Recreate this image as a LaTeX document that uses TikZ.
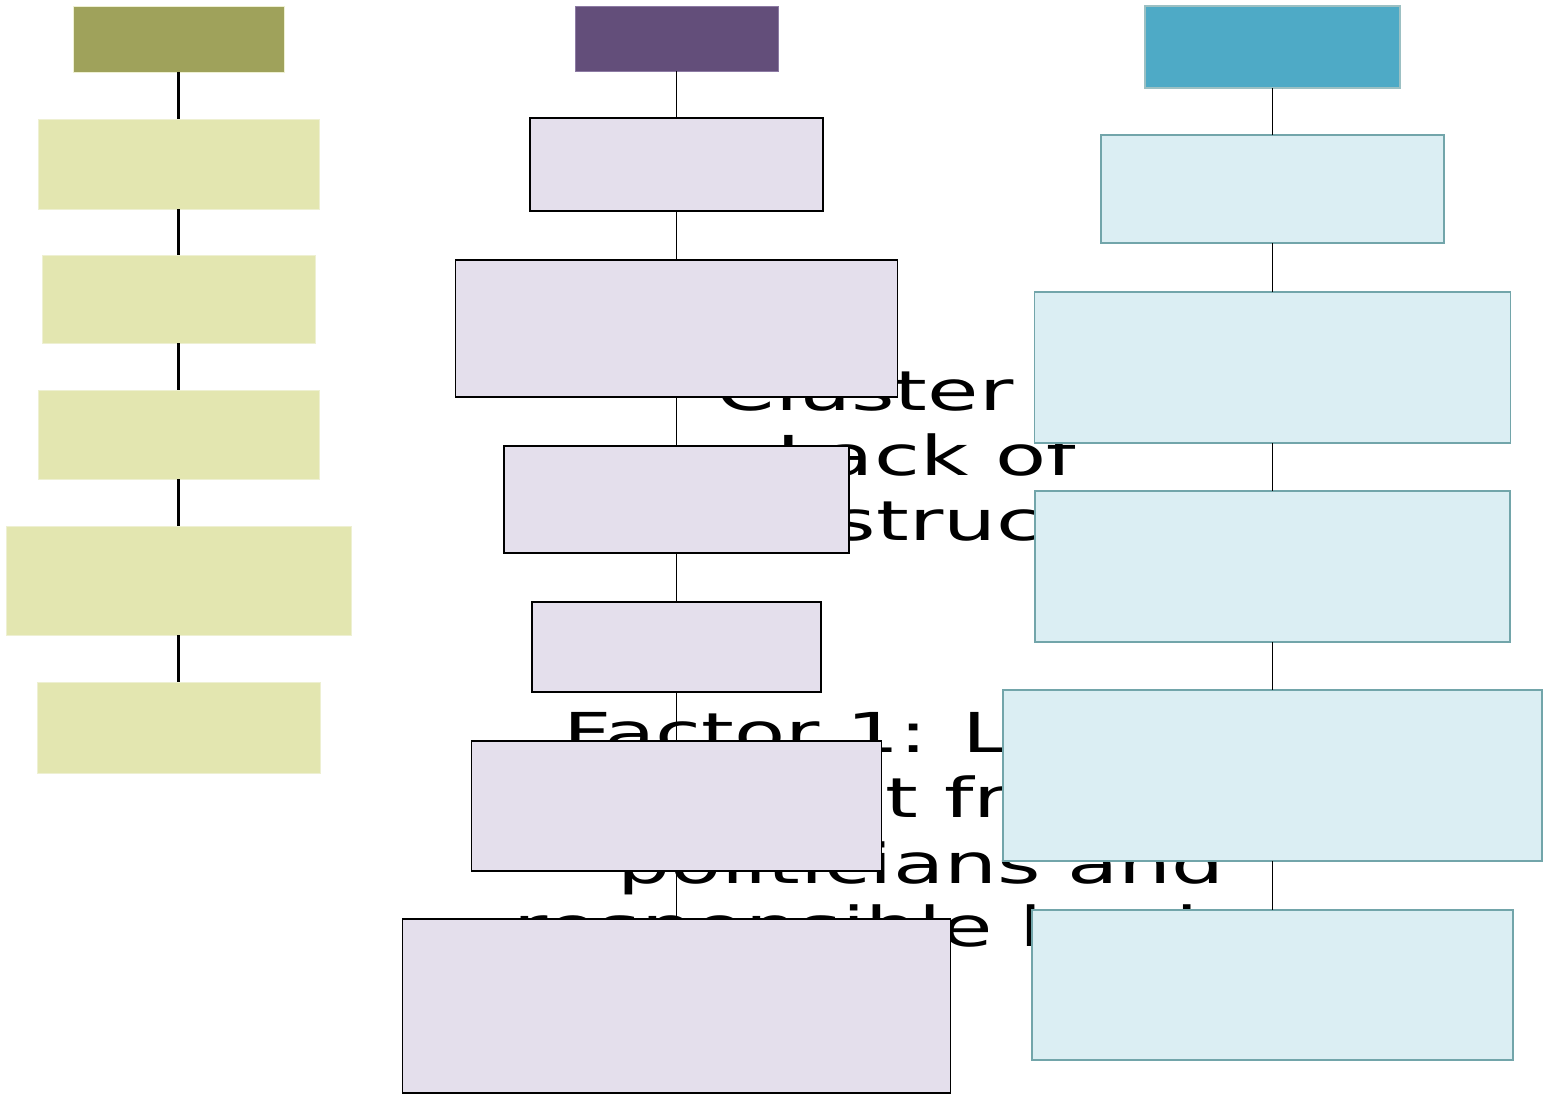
\documentclass[tikz,border=0pt]{standalone}
\usepackage{fontspec}
\newfontfamily\widesans[FakeStretch=1.52]{DejaVu Sans}
\definecolor{oliveHead}{HTML}{9FA25B}
\definecolor{oliveFill}{HTML}{E3E6B0}
\definecolor{oliveLine}{HTML}{EEF0D2}
\definecolor{plumHead}{HTML}{634E7A}
\definecolor{plumLine}{HTML}{8C7AA3}
\definecolor{plumFill}{HTML}{E4DFEC}
\definecolor{tealHead}{HTML}{4EAAC6}
\definecolor{tealFill}{HTML}{DBEEF3}
\definecolor{tealLine}{HTML}{72A5AA}
\begin{document}
\begin{tikzpicture}[x=1pt,y=-1pt,
  every node/.style={inner sep=0pt, outer sep=0pt},
  bgtext/.style={anchor=base, font=\widesans\fontsize{55pt}{66pt}\selectfont, text=black},
  ohead/.style={rectangle, fill=oliveHead, draw=oliveLine, line width=0.8pt},
  obox/.style={rectangle, fill=oliveFill, draw=oliveLine, line width=0.8pt},
  phead/.style={rectangle, fill=plumHead, draw=plumLine, line width=0.8pt},
  pbox/.style={rectangle, fill=plumFill, draw=black, line width=1.8pt},
  thead/.style={rectangle, fill=tealHead, draw=tealLine!70!white, line width=1.2pt},
  tbox/.style={rectangle, fill=tealFill, draw=tealLine, line width=1.8pt},
  oconn/.style={draw=black, line width=2.2pt},
  pconn/.style={draw=black, line width=1.7pt},
  tconn/.style={draw=black, line width=1.8pt}
]
\useasboundingbox (0,0) rectangle (1545,1096);

% captions lying underneath the boxes
\node[bgtext] (cla) at (919,410) {Cluster 2:};
\node[bgtext] (clb) at (926,475) {Lack of};
\node[bgtext] (clc) at (927,540) {infrastructure};
\node[bgtext] (fa) at (913,752) {Factor 1: Lack of};
\node[bgtext] (fb) at (921,817) {input from};
\node[bgtext] (fc) at (921,883) {politicians and};
\node[bgtext] (fd) at (921,946) {responsible leaders};

% left column
\node[ohead, minimum width=211pt, minimum height=66pt] (lh) at (178.5,39) {};
\node[obox, minimum width=281pt, minimum height=90pt] (l1) at (178.5,164) {};
\node[obox, minimum width=273pt, minimum height=88pt] (l2) at (178.5,299) {};
\node[obox, minimum width=281pt, minimum height=89pt] (l3) at (178.5,434.5) {};
\node[obox, minimum width=345pt, minimum height=109pt] (l4) at (178.5,580.5) {};
\node[obox, minimum width=283pt, minimum height=91pt] (l5) at (178.5,727.5) {};

% middle column
\node[phead, minimum width=203pt, minimum height=65pt] (mh) at (676.5,38.5) {};
\node[pbox, minimum width=293pt, minimum height=93pt] (m1) at (676.5,164.5) {};
\node[pbox, minimum width=442pt, minimum height=137pt] (m2) at (676.5,328.5) {};
\node[pbox, minimum width=345pt, minimum height=107pt] (m3) at (676.5,499.5) {};
\node[pbox, minimum width=289pt, minimum height=90pt] (m4) at (676.5,647) {};
\node[pbox, minimum width=410pt, minimum height=130pt] (m5) at (676.5,806) {};
\node[pbox, minimum width=548pt, minimum height=174pt] (m6) at (676.5,1006) {};

% right column
\node[thead, minimum width=255pt, minimum height=82pt] (rh) at (1272.5,47) {};
\node[tbox, minimum width=343pt, minimum height=108pt] (r1) at (1272.5,189) {};
\node[tbox, minimum width=476pt, minimum height=151pt] (r2) at (1272.5,367.5) {};
\node[tbox, minimum width=475pt, minimum height=151pt] (r3) at (1272.5,566.5) {};
\node[tbox, minimum width=539pt, minimum height=171pt] (r4) at (1272.5,775.5) {};
\node[tbox, minimum width=481pt, minimum height=150pt] (r5) at (1272.5,985) {};

% connectors
\draw[oconn] (lh) -- (l1);
\draw[oconn] (l1) -- (l2);
\draw[oconn] (l2) -- (l3);
\draw[oconn] (l3) -- (l4);
\draw[oconn] (l4) -- (l5);
\draw[pconn] (mh) -- (m1);
\draw[pconn] (m1) -- (m2);
\draw[pconn] (m2) -- (m3);
\draw[pconn] (m3) -- (m4);
\draw[pconn] (m4) -- (m5);
\draw[pconn] (m5) -- (m6);
\draw[tconn] (rh) -- (r1);
\draw[tconn] (r1) -- (r2);
\draw[tconn] (r2) -- (r3);
\draw[tconn] (r3) -- (r4);
\draw[tconn] (r4) -- (r5);
\end{tikzpicture}
\end{document}
